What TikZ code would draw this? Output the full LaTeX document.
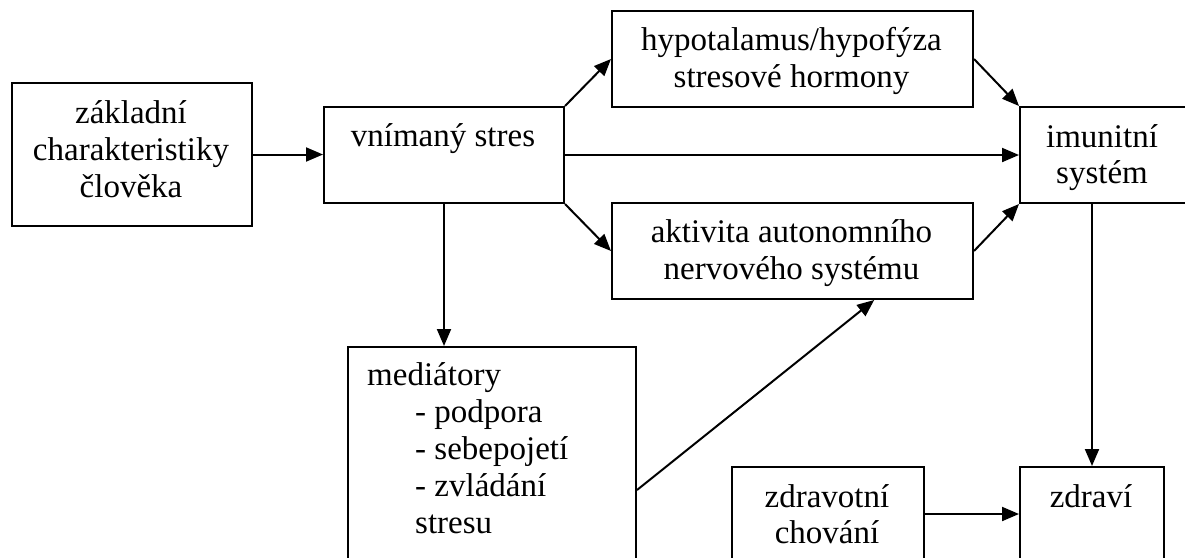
\documentclass[tikz,border=0pt]{standalone}
\usepackage{fontspec}
\setmainfont{Liberation Serif}
\usetikzlibrary{arrows.meta,calc}
\begin{document}
\begin{tikzpicture}[x=1pt,y=-1pt,
  box/.style={draw, line width=2pt, inner sep=0pt, anchor=north west},
  txt/.style={anchor=base, inner sep=0pt, font=\fontsize{33}{37}\selectfont},
  txtl/.style={txt, anchor=base west},
  arr/.style={-{Triangle[length=17pt,width=14pt]}, line width=2pt}]
\useasboundingbox (0,0) rectangle (1185,557);
% boxes
\node[box, minimum width=240pt, minimum height=143pt] (b1) at (11,82) {};
\node[box, minimum width=240pt, minimum height=96pt] (vs) at (323,106) {};
\node[box, minimum width=361pt, minimum height=96pt] (hyp) at (611,10) {};
\node[box, minimum width=361pt, minimum height=96pt] (akt) at (611,202) {};
\node[box, minimum width=170pt, minimum height=96pt] (imu) at (1019,106) {};
\node[box, minimum width=288pt, minimum height=286pt] (med) at (347,346) {};
\node[box, minimum width=192pt, minimum height=94pt] (zch) at (731,466) {};
\node[box, minimum width=144pt, minimum height=94pt] (zdr) at (1019,466) {};
% texts
\node[txt] (b1a) at (131,123) {základní};
\node[txt] (b1b) at (131,160) {charakteristiky};
\node[txt] (b1c) at (131,197) {člověka};
\node[txt] (vsa) at (443,146) {vnímaný stres};
\node[txt] (hypa) at (791.5,50) {hypotalamus/hypofýza};
\node[txt] (hypb) at (791.5,87) {stresové hormony};
\node[txt] (akta) at (791.5,242) {aktivita autonomního};
\node[txt] (aktb) at (791.5,279) {nervového systému};
\node[txt] (imua) at (1102,147) {imunitní};
\node[txt] (imub) at (1102,183) {systém};
\node[txtl] (meda) at (367,385) {mediátory};
\node[txtl] (medb) at (415,422) {- podpora};
\node[txtl] (medc) at (415,459) {- sebepojetí};
\node[txtl] (medd) at (415,496) {- zvládání};
\node[txtl] (mede) at (415,533) {stresu};
\node[txt] (zcha) at (827,507) {zdravotní};
\node[txt] (zchb) at (827,543) {chování};
\node[txt] (zdra) at (1091,507) {zdraví};
% connectors
\draw[arr] (b1.east) -- (b1.east -| vs.west);
\draw[arr] (vs.north east) -- (hyp.west);
\draw[arr] (vs.east) -- (imu.west);
\draw[arr] (vs.south east) -- (akt.west);
\draw[arr] (hyp.east) -- (imu.north west);
\draw[arr] (akt.east) -- (imu.south west);
\draw[arr] (vs.south) -- (vs.south |- med.north);
\draw[arr] (med.east) -- ($(akt.south west)!0.725!(akt.south east)$);
\draw[arr] (zdr.north |- imu.south) -- (zdr.north);
\draw[arr] (zch.east) -- (zdr.west);
\end{tikzpicture}
\end{document}
